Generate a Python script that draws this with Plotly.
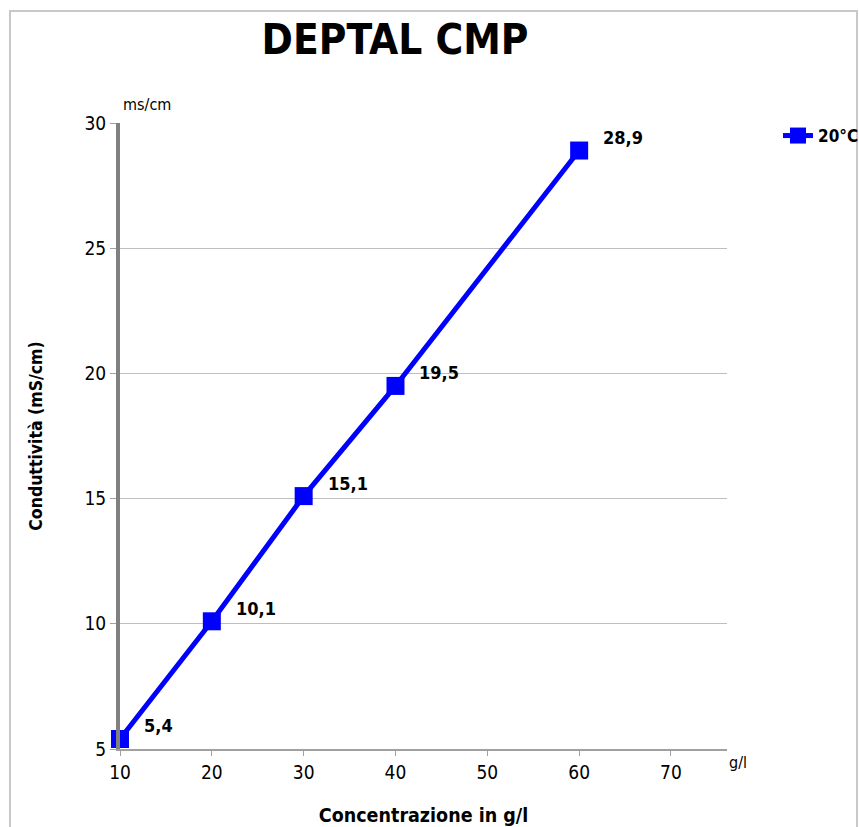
import plotly.graph_objects as go

concentrazione = [10, 20, 30, 40, 60]
conduttivita = [5.4, 10.1, 15.1, 19.5, 28.9]
labels = ["5,4", "10,1", "15,1", "19,5", "28,9"]
series_name = "20°C"
x_ticks = [10, 20, 30, 40, 50, 60, 70]
y_ticks = [5, 10, 15, 20, 25, 30]

FONT = "DejaVu Sans Condensed, DejaVu Sans"
BLUE = "#0000FF"
W, H = 859, 827


def px_x(p):
    return p / W


def px_y(p):
    return 1 - p / H


fig = go.Figure()
fig.add_trace(go.Scatter(
    x=concentrazione, y=conduttivita, mode="lines+markers", name="<b>%s</b>" % series_name,
    line=dict(color=BLUE, width=5),
    marker=dict(symbol="square", size=18, color=BLUE),
    cliponaxis=False,
))

for xv, yv, t in zip(concentrazione, conduttivita, labels):
    fig.add_annotation(x=xv, y=yv, text="<b>%s</b>" % t, showarrow=False,
                       xanchor="left", yanchor="middle", xshift=22, yshift=13,
                       font=dict(family=FONT, size=18, color="black"))

# axis unit labels
fig.add_annotation(xref="paper", yref="paper", x=px_x(121), y=px_y(104), text="ms/cm",
                   showarrow=False, xanchor="left", yanchor="middle",
                   font=dict(family=FONT, size=16, color="black"))
fig.add_annotation(xref="paper", yref="paper", x=px_x(727), y=px_y(762), text="g/l",
                   showarrow=False, xanchor="left", yanchor="middle",
                   font=dict(family=FONT, size=16, color="black"))

# outer border
fig.add_shape(type="rect", xref="paper", yref="paper",
              x0=px_x(10), x1=px_x(857), y0=px_y(835), y1=px_y(11),
              line=dict(color="#C8C8C8", width=2), fillcolor="rgba(0,0,0,0)", layer="below")

fig.update_layout(
    width=W, height=H,
    margin=dict(l=0, r=0, t=0, b=0, pad=0, autoexpand=False),
    paper_bgcolor="white", plot_bgcolor="white",
    font=dict(family=FONT, color="black"),
    title=dict(text="<b>DEPTAL CMP</b>", x=395 / W, xanchor="center",
               y=px_y(39), yanchor="middle",
               font=dict(family=FONT, size=42, color="black")),
    showlegend=True,
    legend=dict(x=px_x(778), y=px_y(136), xanchor="left", yanchor="middle",
                font=dict(family=FONT, size=17, color="black"),
                bgcolor="rgba(0,0,0,0)", itemwidth=30),
    xaxis=dict(domain=[px_x(120), px_x(727)], automargin=False,
               range=[10, 76.1], tickvals=x_ticks, showgrid=False, zeroline=False,
               showline=True, linecolor="#A0A0A0", linewidth=2,
               ticks="outside", ticklen=5, tickcolor="#A0A0A0",
               tickfont=dict(family=FONT, size=19, color="black"),
               title=dict(text="<b>Concentrazione in g/l</b>", standoff=28,
                          font=dict(family=FONT, size=19.5, color="black"))),
    yaxis=dict(domain=[px_y(749), px_y(123)], automargin=False,
               range=[5, 30], tickvals=y_ticks, showgrid=True, gridcolor="#BEBEBE",
               gridwidth=1, zeroline=False,
               showline=True, linecolor="#808080", linewidth=4,
               ticks="outside", ticklen=6, tickcolor="#A0A0A0",
               tickfont=dict(family=FONT, size=19, color="black"),
               title=dict(text="<b>Conduttività (mS/cm)</b>", standoff=38,
                          font=dict(family=FONT, size=17.5, color="black"))),
)

fig.write_html("out.html", config={"displayModeBar": False},
               post_script="document.body.style.margin='0';document.body.style.overflow='hidden';")
